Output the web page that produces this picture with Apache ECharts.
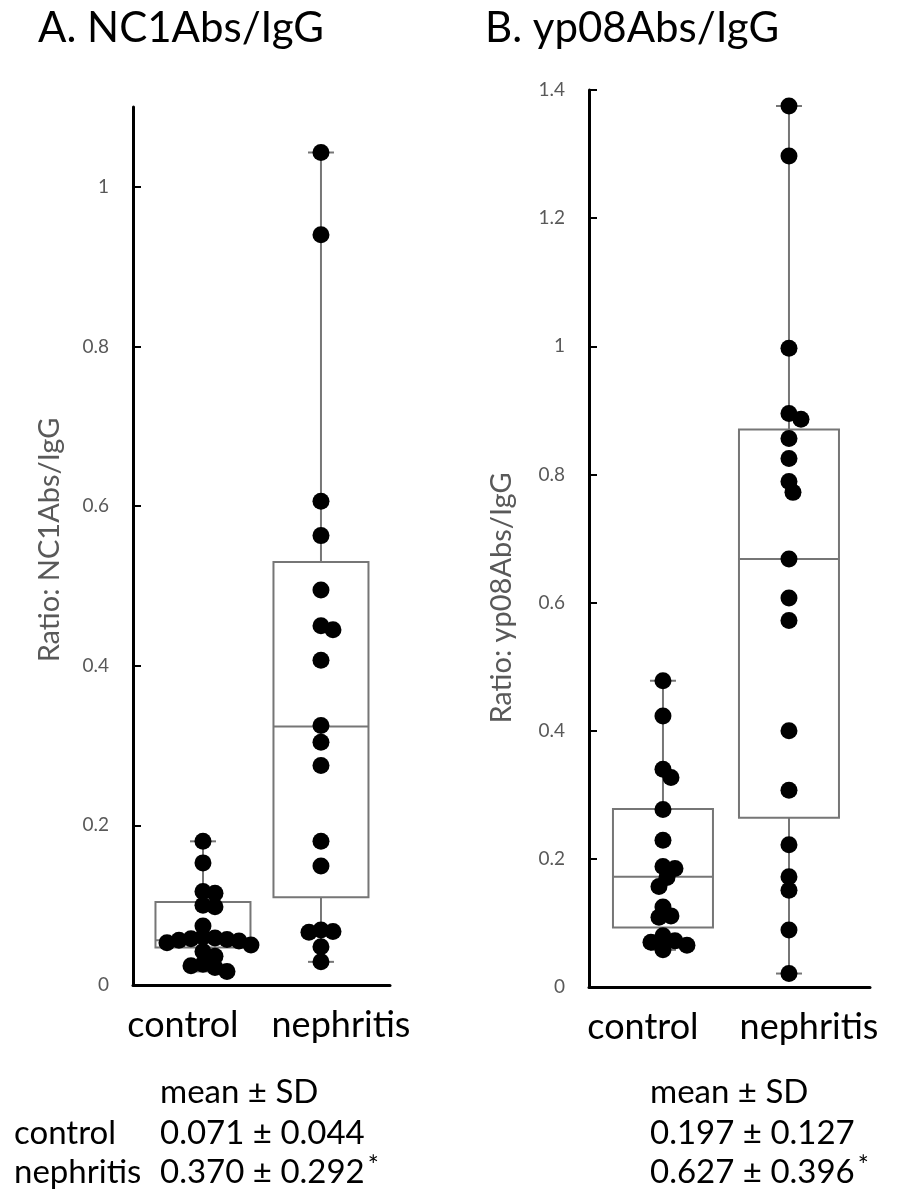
<!DOCTYPE html>
<html>
<head>
<meta charset="utf-8">
<script src="https://cdn.jsdelivr.net/npm/echarts@6/dist/echarts.min.js"></script>
<style>
  html, body { margin: 0; padding: 0; background: #fff; }
  #chart { width: 901px; height: 1193px; }
</style>
</head>
<body>
<div id="chart"></div>
<script>
  var categories = ["control", "nephritis"];
  var panelTitles = ["A. NC1Abs/IgG", "B. yp08Abs/IgG"];
  var axisNames = ["Ratio: NC1Abs/IgG", "Ratio: yp08Abs/IgG"];

  // individual ratios
  var ncControl = [0.18, 0.153, 0.117, 0.115, 0.1, 0.098, 0.074, 0.06, 0.059, 0.058, 0.057,
    0.056, 0.055, 0.053, 0.05, 0.042, 0.036, 0.026, 0.024, 0.022, 0.017];
  var ncNephritis = [1.043, 0.94, 0.606, 0.563, 0.495, 0.45, 0.445, 0.407, 0.325, 0.304,
    0.275, 0.18, 0.149, 0.069, 0.067, 0.066, 0.048, 0.029];
  var ypControl = [0.478, 0.423, 0.34, 0.327, 0.277, 0.229, 0.188, 0.185, 0.171, 0.157,
    0.125, 0.111, 0.109, 0.08, 0.072, 0.07, 0.065, 0.058];
  var ypNephritis = [1.375, 1.297, 0.997, 0.895, 0.886, 0.856, 0.825, 0.789, 0.772, 0.668,
    0.607, 0.572, 0.4, 0.307, 0.222, 0.172, 0.151, 0.089, 0.021];

  // box: min, Q1, median, Q3, max
  var ncBoxControl = [0.017, 0.047, 0.056, 0.104, 0.18];
  var ncBoxNephritis = [0.029, 0.11, 0.324, 0.53, 1.043];
  var ypBoxControl = [0.058, 0.093, 0.172, 0.278, 0.478];
  var ypBoxNephritis = [0.021, 0.264, 0.668, 0.87, 1.375];

  var ncTicks = [0, 0.2, 0.4, 0.6, 0.8, 1];
  var ypTicks = [0, 0.2, 0.4, 0.6, 0.8, 1, 1.2, 1.4];

  var meanNC = ["0.071", "0.370"];
  var sdNC = ["0.044", "0.292"];
  var meanYP = ["0.197", "0.627"];
  var sdYP = ["0.127", "0.396"];

  var FONT = "Lato";
  var chart = echarts.init(document.getElementById("chart"));

  function renderBox(boxW) {
    return function (params, api) {
      var x = api.value(0);
      var pMin = api.coord([x, api.value(1)]);
      var pQ1 = api.coord([x, api.value(2)]);
      var pMed = api.coord([x, api.value(3)]);
      var pQ3 = api.coord([x, api.value(4)]);
      var pMax = api.coord([x, api.value(5)]);
      var cx = pMin[0], h = boxW / 2, cap = 13;
      var st = { stroke: "#767676", lineWidth: 2, fill: null };
      return {
        type: "group",
        children: [
          { type: "line", shape: { x1: cx, y1: pMax[1], x2: cx, y2: pQ3[1] }, style: st },
          { type: "line", shape: { x1: cx, y1: pQ1[1], x2: cx, y2: pMin[1] }, style: st },
          { type: "line", shape: { x1: cx - cap, y1: pMax[1], x2: cx + cap, y2: pMax[1] }, style: st },
          { type: "line", shape: { x1: cx - cap, y1: pMin[1], x2: cx + cap, y2: pMin[1] }, style: st },
          { type: "rect", shape: { x: cx - h, y: pQ3[1], width: boxW, height: pQ1[1] - pQ3[1] }, style: st },
          { type: "line", shape: { x1: cx - h, y1: pMed[1], x2: cx + h, y2: pMed[1] }, style: st }
        ]
      };
    };
  }

  function yAxisOf(gi, max, ticks) {
    return {
      type: "value",
      gridIndex: gi,
      min: 0,
      max: max,
      splitLine: { show: false },
      axisLine: { show: true, lineStyle: { color: "#000", width: 3 } },
      axisTick: { show: true, inside: true, length: 8, customValues: ticks, lineStyle: { color: "#000", width: 2 } },
      axisLabel: {
        customValues: ticks, color: "#595959", fontSize: 19, fontFamily: FONT, margin: 24,
        formatter: function (v) { return String(+v.toFixed(1)); }
      }
    };
  }

  function xAxisOf(gi, min, max) {
    return {
      type: "value",
      gridIndex: gi,
      min: min,
      max: max,
      splitLine: { show: false },
      axisLine: { show: true, onZero: false, lineStyle: { color: "#000", width: 3 } },
      axisTick: { show: false },
      axisLabel: { show: false }
    };
  }

  function boxSeries(gi, boxW, boxes) {
    return {
      type: "custom",
      xAxisIndex: gi,
      yAxisIndex: gi,
      renderItem: renderBox(boxW),
      encode: { x: 0, y: [1, 2, 3, 4, 5] },
      data: boxes.map(function (b, i) { return [i + 1].concat(b); }),
      z: 2,
      silent: true
    };
  }

  function dotSeries(gi, data) {
    return {
      type: "scatter",
      xAxisIndex: gi,
      yAxisIndex: gi,
      symbolSize: 17,
      itemStyle: { color: "#000", opacity: 1 },
      data: data,
      z: 5
    };
  }

  var groups = [
    [ncControl, ncNephritis],
    [ypControl, ypNephritis]
  ];

  var titleStyle = { fontFamily: FONT, fontWeight: "normal", fontSize: 42, color: "#000" };
  chart.setOption({
    animation: false,
    backgroundColor: "#fff",
    title: [
      { text: panelTitles[0], left: 33, top: 2, textStyle: titleStyle },
      { text: panelTitles[1], left: 480, top: 2, textStyle: titleStyle }
    ],
    grid: [
      { left: 133, right: 511, top: 107, bottom: 208 },
      { left: 589, right: 31, top: 90, bottom: 206 }
    ],
    xAxis: [xAxisOf(0, 0.407, 2.585), xAxisOf(1, 0.413, 2.643)],
    yAxis: [yAxisOf(0, 1.1, ncTicks), yAxisOf(1, 1.4, ypTicks)],
    series: [
      boxSeries(0, 95, [ncBoxControl, ncBoxNephritis]),
      boxSeries(1, 100, [ypBoxControl, ypBoxNephritis]),
      dotSeries(0, []), dotSeries(0, []),
      dotSeries(1, []), dotSeries(1, [])
    ]
  });

  // simple beeswarm: push dots sideways until they no longer overlap too much
  function swarm(values, gi, cx) {
    var finder = { xAxisIndex: gi, yAxisIndex: gi };
    var unit = chart.convertToPixel(finder, [cx + 1, 0])[0] - chart.convertToPixel(finder, [cx, 0])[0];
    var placed = [], out = [];
    var minDist = 11;
    values.slice().sort(function (a, b) { return b - a; }).forEach(function (v) {
      var p = chart.convertToPixel(finder, [cx, v]);
      var dx = 0;
      for (var k = 0; k < 60; k++) {
        var cand = k === 0 ? 0 : (k % 2 ? 1 : -1) * Math.ceil(k / 2) * 4;
        var ok = placed.every(function (q) {
          return Math.hypot(q[0] - (p[0] + cand), q[1] - p[1]) >= minDist;
        });
        if (ok) { dx = cand; break; }
      }
      placed.push([p[0] + dx, p[1]]);
      out.push([cx + dx / unit, v]);
    });
    return out;
  }

  var dots = [];
  groups.forEach(function (g, gi) {
    g.forEach(function (vals, ci) { dots.push({ data: swarm(vals, gi, ci + 1) }); });
  });

  var txt = { fontFamily: FONT, fill: "#000", textVerticalAlign: "middle" };
  var graphics = [];
  [0, 1].forEach(function (gi) {
    var finder = { xAxisIndex: gi, yAxisIndex: gi };
    categories.forEach(function (c, ci) {
      var px = chart.convertToPixel(finder, [ci + 1, 0]);
      graphics.push({
        type: "text", x: px[0] + (ci === 0 ? -20 : 20), y: px[1] + 40,
        style: Object.assign({}, txt, { text: c, fontSize: 36, textAlign: "center" })
      });
    });
  });
  graphics.push({
    type: "text", x: 50, y: 540, rotation: Math.PI / 2,
    style: { text: axisNames[0], fontFamily: FONT, fontSize: 29, fill: "#595959", textAlign: "center", textVerticalAlign: "middle" }
  });
  graphics.push({
    type: "text", x: 502, y: 598, rotation: Math.PI / 2,
    style: { text: axisNames[1], fontFamily: FONT, fontSize: 29, fill: "#595959", textAlign: "center", textVerticalAlign: "middle" }
  });

  // mean ± SD table
  var colX = [160, 650];
  var rowY = [1133, 1172];
  var means = [meanNC, meanYP], sds = [sdNC, sdYP];
  colX.forEach(function (x, p) {
    graphics.push({ type: "text", x: x, y: 1092, style: Object.assign({}, txt, { text: "mean \u00b1 SD", fontSize: 33 }) });
    categories.forEach(function (c, ci) {
      graphics.push({
        type: "text", x: x, y: rowY[ci],
        style: Object.assign({}, txt, {
          text: means[p][ci] + " \u00b1 " + sds[p][ci] + (ci === 1 ? "{s|*}" : ""),
          fontSize: 33,
          rich: { s: { fontSize: 26, fontFamily: FONT, fill: "#000", padding: [0, 0, 10, 3] } }
        })
      });
    });
  });
  categories.forEach(function (c, ci) {
    graphics.push({ type: "text", x: 14, y: rowY[ci], style: Object.assign({}, txt, { text: c, fontSize: 33 }) });
  });

  chart.setOption({
    series: [{}, {}].concat(dots),
    graphic: graphics
  });
</script>
</body>
</html>
